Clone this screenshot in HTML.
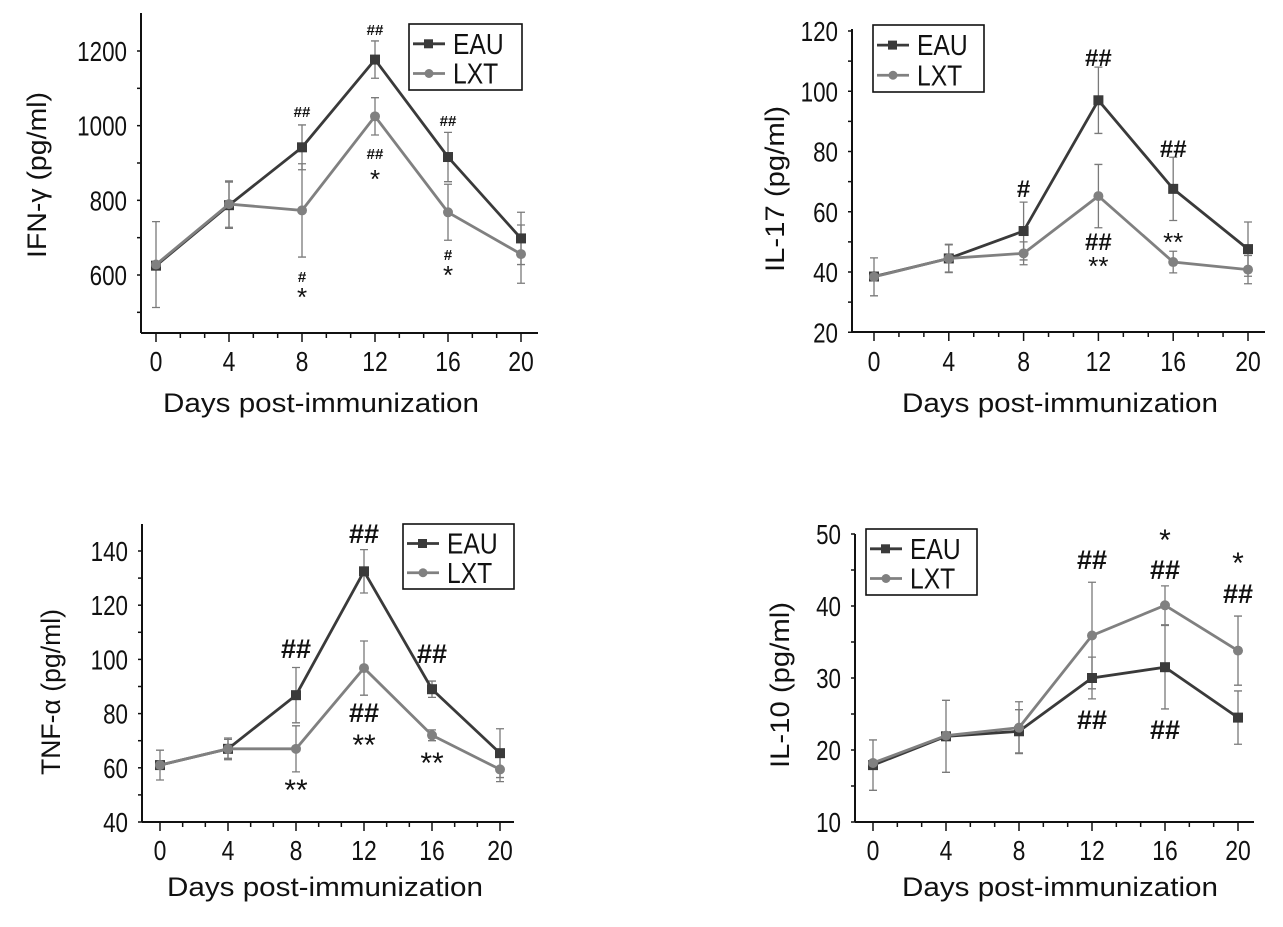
<!DOCTYPE html>
<html><head><meta charset="utf-8"><style>
html,body{margin:0;padding:0;background:#fff;}
svg{display:block;font-family:"Liberation Sans",Arial,sans-serif;}
</style></head><body>
<svg id="fig" width="1283" height="927" viewBox="0 0 1283 927" xmlns="http://www.w3.org/2000/svg"></svg>
<script>
const days = [0, 4, 8, 12, 16, 20];
const seriesNames = ["EAU", "LXT"];
const ifnEAU = [625, 787, 942, 1177, 916, 698];
const ifnEAUErr = [0, 62, 60, 50, 66, 70];
const ifnLXT = [628, 790, 773, 1025, 768, 656];
const ifnLXTErr = [115, 62, 125, 50, 75, 78];
const il17EAU = [38.5, 44.5, 53.6, 97, 67.6, 47.6];
const il17EAUErr = [0, 4.5, 9.6, 11, 10.5, 9];
const il17LXT = [38.4, 44.5, 46.2, 65.2, 43.3, 40.8];
const il17LXTErr = [6.3, 4.7, 3.8, 10.5, 3.6, 4.7];
const tnfEAU = [61, 67, 86.8, 132.5, 89, 65.4];
const tnfEAUErr = [0, 3.5, 10.2, 8, 3, 9];
const tnfLXT = [61, 67, 67, 96.8, 72, 59.4];
const tnfLXTErr = [5.5, 4, 8.5, 10, 2, 4.5];
const il10EAU = [17.9, 21.9, 22.6, 30, 31.5, 24.5];
const il10EAUErr = [3.5, 5, 3, 2.9, 5.8, 3.7];
const il10LXT = [18.2, 22, 23.1, 35.9, 40.1, 33.8];
const il10LXTErr = [0, 0, 3.6, 7.4, 2.7, 4.8];
const ifnTicks = [600, 800, 1000, 1200];
const il17Ticks = [20, 40, 60, 80, 100, 120];
const tnfTicks = [40, 60, 80, 100, 120, 140];
const il10Ticks = [10, 20, 30, 40, 50];

const NS = "http://www.w3.org/2000/svg";
const svg = document.getElementById("fig");
function mk(tag, attrs, parent) {
  const e = document.createElementNS(NS, tag);
  for (const k in attrs) e.setAttribute(k, attrs[k]);
  (parent || svg).appendChild(e);
  return e;
}
function txt(parent, x, y, str, size, anchor, sx, extra) {
  const wrap = mk("g", {transform: `translate(${x},${y}) scale(${sx},1)`}, parent);
  const attrs = {x: 0, y: 0, "text-anchor": anchor, "font-size": size, fill: "#111"};
  if (extra) for (const k in extra) attrs[k] = extra[k];
  const t = mk("text", attrs, wrap);
  t.textContent = str;
  return t;
}
const DARK = "#3a3a3a", GRAY = "#808080";

function panel(cfg) {
  const g = mk("g", {});
  
  
  const xs = d => cfg.x0 + (d - days[0]) / (days[days.length - 1] - days[0]) * (cfg.x20 - cfg.x0);
  const ys = v => cfg.yA + (v - cfg.vA) / (cfg.vB - cfg.vA) * (cfg.yB - cfg.yA);
  const ya = mk("line", {x1: cfg.ax, y1: cfg.top, x2: cfg.ax, y2: cfg.bottom, stroke: "#111", "stroke-width": 2}, g);
  
  
  const xa = mk("line", {x1: cfg.ax, y1: cfg.bottom, x2: cfg.right, y2: cfg.bottom, stroke: "#111", "stroke-width": 2}, g);
  
  
  const step = cfg.ticks[1] - cfg.ticks[0];
  for (let v = cfg.ticks[0] - step / 2; v <= cfg.ticks[cfg.ticks.length - 1] + 0.001; v += step / 2) {
    const y = ys(v);
    if (y > cfg.bottom + 0.5 || y < cfg.top - 0.5) continue;
    mk("line", {x1: cfg.ax - 4, y1: y, x2: cfg.ax, y2: y, stroke: "#111", "stroke-width": 1.5}, g);
  }
  cfg.ticks.forEach(v => {
    const t = txt(g, cfg.ax - 14, ys(v) + 10, String(v), 28, "end", 0.8);
    
    
  });
  for (let i = 0; i < days.length; i++) {
    const x = xs(days[i]);
    mk("line", {x1: x, y1: cfg.bottom, x2: x, y2: cfg.bottom + 9, stroke: "#111", "stroke-width": 1.5}, g);
    if (i < days.length - 1) {
      const dx = xs(days[i + 1]) - x;
      for (let k = 1; k < 3; k++) mk("line", {x1: x + dx * k / 3, y1: cfg.bottom, x2: x + dx * k / 3, y2: cfg.bottom + 5, stroke: "#111", "stroke-width": 1.5}, g);
    }
    const t = txt(g, x, cfg.xlabY + 1, String(days[i]), 28, "middle", 0.82);
    
    
  }
  const xt = mk("text", {x: cfg.xtX, y: cfg.xtY, "text-anchor": "middle", "font-size": 27, fill: "#111", textLength: 316, lengthAdjust: "spacingAndGlyphs"}, g);
  xt.textContent = "Days post-immunization";
  
  
  const yt = mk("text", {x: 0, y: 0, "text-anchor": "middle", "font-size": 27, fill: "#111", textLength: 166, lengthAdjust: "spacingAndGlyphs", transform: `translate(${cfg.ytX + 2},${cfg.ytY}) rotate(-90)`}, g);
  yt.textContent = cfg.ytitle;
  
  
  const series = [[cfg.eau, cfg.eauErr, DARK, "square"], [cfg.lxt, cfg.lxtErr, GRAY, "circle"]];
  [0, 1].forEach(si => {
    const [vals, errs] = series[si];
    errs.forEach((e, i) => {
      if (!e) return;
      const x = xs(days[i]);
      const eb = mk("path", {d: `M${x},${ys(vals[i] - e)}V${ys(vals[i] + e)}M${x - 4},${ys(vals[i] - e)}h8M${x - 4},${ys(vals[i] + e)}h8`, stroke: "#7a7a7a", "stroke-width": 1.3, fill: "none"}, g);
      
      
    });
  });
  [0, 1].forEach(si => {
    const [vals, errs, col, shape] = series[si];
    const pl = mk("polyline", {points: vals.map((v, i) => xs(days[i]) + "," + ys(v)).join(" "), stroke: col, "stroke-width": 2.8, fill: "none"}, g);
    
    
    vals.forEach((v, i) => {
      const x = xs(days[i]), y = ys(v);
      let m;
      if (shape === "square") m = mk("rect", {x: x - 5, y: y - 5, width: 10, height: 10, fill: col}, g);
      else m = mk("circle", {cx: x, cy: y, r: 5, fill: col}, g);
      
      
    });
  });
  cfg.ann.forEach(a => {
    const t = mk("text", {x: xs(a[0]), y: a[1], "text-anchor": "middle", "font-size": a[3], "font-weight": a[2].includes("#") ? "bold" : "normal", fill: "#111"}, g);
    t.textContent = a[2];
    
    
  });
  const lg = mk("g", {}, g);
  
  
  const L = cfg.leg;
  mk("rect", {x: L[0], y: L[1], width: L[2] - L[0], height: L[3] - L[1], fill: "#fff", stroke: "#111", "stroke-width": 1.6}, lg);
  const rows = [L[1] + (L[3] - L[1]) * 0.3, L[1] + (L[3] - L[1]) * 0.75];
  [[DARK, "square", "EAU"], [GRAY, "circle", "LXT"]].forEach((r, i) => {
    const y = rows[i];
    mk("line", {x1: L[0] + 4, y1: y, x2: L[0] + 36, y2: y, stroke: r[0], "stroke-width": 2.8}, lg);
    if (r[1] === "square") mk("rect", {x: L[0] + 15, y: y - 4.5, width: 9, height: 9, fill: r[0]}, lg);
    else mk("circle", {cx: L[0] + 20, cy: y, r: 4.5, fill: r[0]}, lg);
    const t = txt(lg, L[0] + 44, y + 10, r[2], 29, "start", 0.85);
    
    
  });
}

panel({name: "ifn-gamma", ax: 141, top: 13, bottom: 333, right: 538, x0: 156, x20: 521,
  vA: 600, yA: 275, vB: 1200, yB: 51, ticks: ifnTicks, xlabY: 370, xtX: 321, xtY: 412,
  ytX: 44, ytY: 175, ytitle: "IFN-γ (pg/ml)", eau: ifnEAU, eauErr: ifnEAUErr, lxt: ifnLXT, lxtErr: ifnLXTErr,
  leg: [409, 24, 522, 90],
  ann: [[8, 117, "##", 15], [12, 35, "##", 15], [16, 126, "##", 15], [12, 159, "##", 15], [12, 188, "*", 26],
        [8, 282, "#", 15], [8, 306, "*", 26], [16, 260, "#", 15], [16, 284, "*", 26]]});

panel({name: "il-17", ax: 852, top: 29, bottom: 332, right: 1265, x0: 874, x20: 1248,
  vA: 40, yA: 272, vB: 120, yB: 31, ticks: il17Ticks, xlabY: 370, xtX: 1060, xtY: 412,
  ytX: 782, ytY: 189, ytitle: "IL-17 (pg/ml)", eau: il17EAU, eauErr: il17EAUErr, lxt: il17LXT, lxtErr: il17LXTErr,
  leg: [873, 25, 984, 92],
  ann: [[8, 197, "#", 24], [12, 66, "##", 24], [16, 157, "##", 24], [12, 250, "##", 24], [12, 275, "**", 26], [16, 251, "**", 26]]});

panel({name: "tnf-alpha", ax: 142, top: 524, bottom: 822, right: 514, x0: 160, x20: 500,
  vA: 40, yA: 822, vB: 140, yB: 551, ticks: tnfTicks, xlabY: 859, xtX: 325, xtY: 896,
  ytX: 58, ytY: 692, ytitle: "TNF-α (pg/ml)", eau: tnfEAU, eauErr: tnfEAUErr, lxt: tnfLXT, lxtErr: tnfLXTErr,
  leg: [403, 524, 514, 589],
  ann: [[8, 658, "##", 27], [12, 543, "##", 27], [16, 663, "##", 27], [12, 722, "##", 27], [12, 755, "**", 30], [8, 800, "**", 30], [16, 773, "**", 30]]});

panel({name: "il-10", ax: 855, top: 534, bottom: 822, right: 1254, x0: 873, x20: 1238,
  vA: 10, yA: 822, vB: 50, yB: 534, ticks: il10Ticks, xlabY: 859, xtX: 1060, xtY: 896,
  ytX: 787, ytY: 685, ytitle: "IL-10 (pg/ml)", eau: il10EAU, eauErr: il10EAUErr, lxt: il10LXT, lxtErr: il10LXTErr,
  leg: [866, 529, 977, 595],
  ann: [[12, 569, "##", 27], [16, 550, "*", 30], [16, 579, "##", 27], [20, 573, "*", 30], [20, 603, "##", 27], [12, 729, "##", 27], [16, 739, "##", 27]]});
</script>
</body></html>
